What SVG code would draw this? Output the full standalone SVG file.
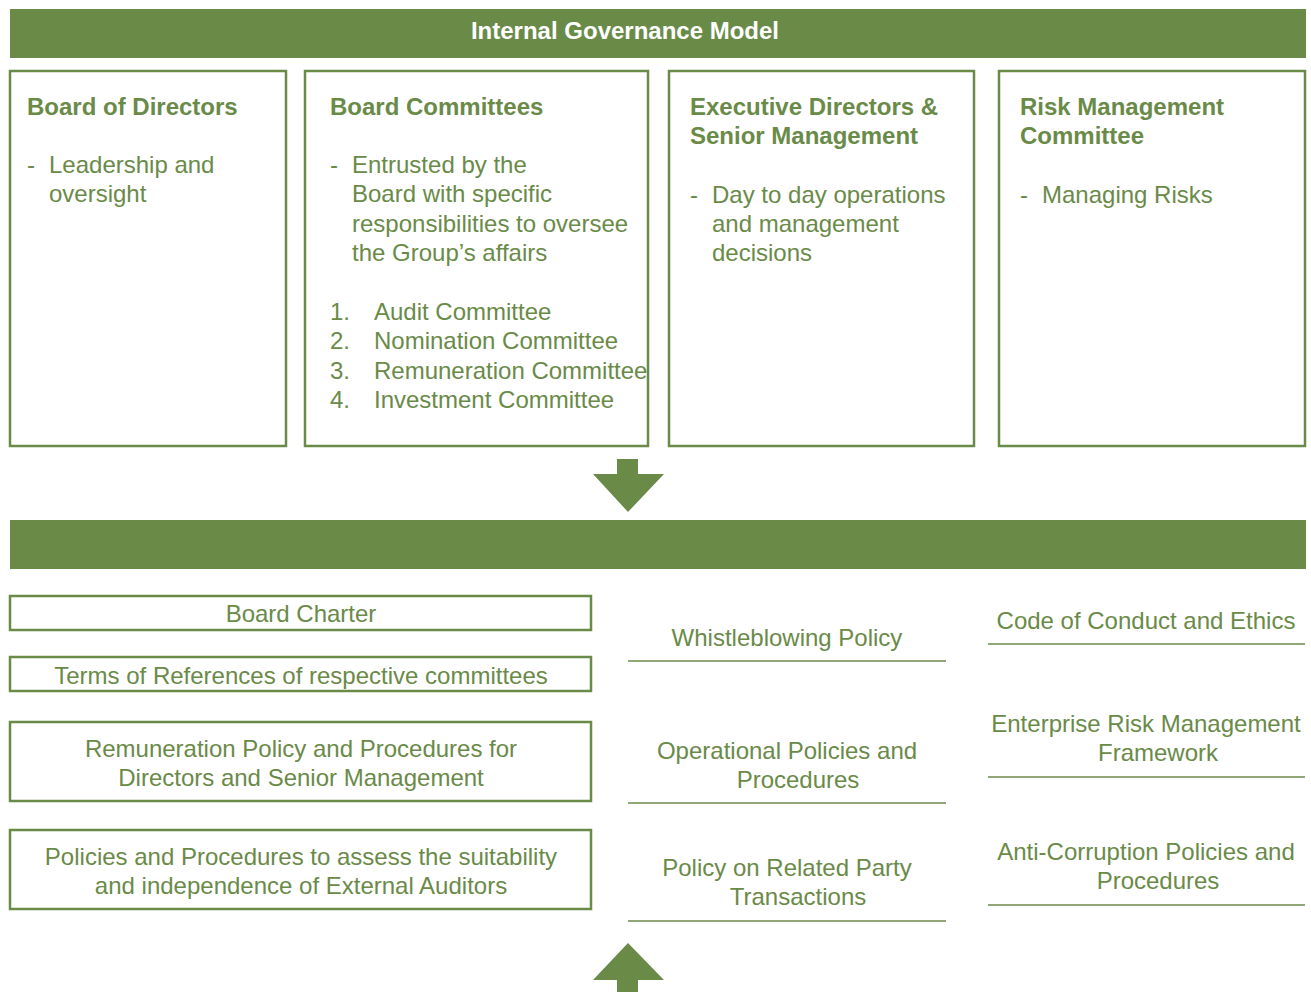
<svg xmlns="http://www.w3.org/2000/svg" width="1311" height="992" viewBox="0 0 1311 992">
<style>
.bar{fill:#6a8a48}
.box{fill:#fff;stroke:#6a8a48;stroke-width:2.5}
.rule{stroke:#6a8a48;stroke-width:1.6}
.h{font-family:"Liberation Sans",Arial,sans-serif;font-weight:bold;font-size:24px;fill:#6a8a48}
.t{font-family:"Liberation Sans",Arial,sans-serif;font-size:24px;fill:#6a8a48}
.c{text-anchor:middle}
.title{font-family:"Liberation Sans",Arial,sans-serif;font-weight:bold;font-size:24px;fill:#fff;text-anchor:middle}
</style>
<rect width="1311" height="992" fill="#fff"/>
<g id="header">
<rect class="bar" x="10" y="9" width="1296" height="49"/>
<text class="title" x="625" y="39">Internal Governance Model</text>
</g>
<g id="board-of-directors">
<rect class="box" x="10" y="71" width="276" height="375"/>
<text class="h" x="27" y="115">Board of Directors</text>
<text class="t" x="27" y="173">-</text>
<text class="t" x="49" y="173">Leadership and</text>
<text class="t" x="49" y="202">oversight</text>
</g>
<g id="board-committees">
<rect class="box" x="305" y="71" width="343" height="375"/>
<text class="h" x="330" y="115">Board Committees</text>
<text class="t" x="330" y="173">-</text>
<text class="t" x="352" y="173">Entrusted by the</text>
<text class="t" x="352" y="202">Board with specific</text>
<text class="t" x="352" y="232">responsibilities to oversee</text>
<text class="t" x="352" y="261">the Group’s affairs</text>
<text class="t" x="330" y="320">1.</text><text class="t" x="374" y="320">Audit Committee</text>
<text class="t" x="330" y="349">2.</text><text class="t" x="374" y="349">Nomination Committee</text>
<text class="t" x="330" y="379">3.</text><text class="t" x="374" y="379">Remuneration Committee</text>
<text class="t" x="330" y="408">4.</text><text class="t" x="374" y="408">Investment Committee</text>
</g>
<g id="executive-directors">
<rect class="box" x="669" y="71" width="305" height="375"/>
<text class="h" x="690" y="115">Executive Directors &amp;</text>
<text class="h" x="690" y="144">Senior Management</text>
<text class="t" x="690" y="203">-</text>
<text class="t" x="712" y="203">Day to day operations</text>
<text class="t" x="712" y="232">and management</text>
<text class="t" x="712" y="261">decisions</text>
</g>
<g id="risk-management-committee">
<rect class="box" x="999" y="71" width="306" height="375"/>
<text class="h" x="1020" y="115">Risk Management</text>
<text class="h" x="1020" y="144">Committee</text>
<text class="t" x="1020" y="203">-</text>
<text class="t" x="1042" y="203">Managing Risks</text>
</g>
<g id="connectors">
<polygon class="bar" points="617,459 638,459 638,474 664,474 628,512 593,474 617,474"/>
<polygon class="bar" points="628,943 664,980 638,980 638,992 617,992 617,980 593,980"/>
</g>
<g id="policies-bar">
<rect class="bar" x="10" y="520" width="1296" height="49"/>
</g>
<g id="board-charter">
<rect class="box" x="10" y="596" width="581" height="34"/>
<text class="t c" x="301" y="622">Board Charter</text>
</g>
<g id="terms-of-references">
<rect class="box" x="10" y="657" width="581" height="34"/>
<text class="t c" x="301" y="684">Terms of References of respective committees</text>
</g>
<g id="remuneration-policy">
<rect class="box" x="10" y="722" width="581" height="79"/>
<text class="t c" x="301" y="757">Remuneration Policy and Procedures for</text>
<text class="t c" x="301" y="786">Directors and Senior Management</text>
</g>
<g id="external-auditors-policy">
<rect class="box" x="10" y="830" width="581" height="79"/>
<text class="t c" x="301" y="865">Policies and Procedures to assess the suitability</text>
<text class="t c" x="301" y="894">and independence of External Auditors</text>
</g>
<g id="whistleblowing">
<text class="t c" x="787" y="646">Whistleblowing Policy</text>
<line class="rule" x1="628" y1="661" x2="946" y2="661"/>
</g>
<g id="operational-policies">
<text class="t c" x="787" y="759">Operational Policies and</text>
<text class="t c" x="798" y="788">Procedures</text>
<line class="rule" x1="628" y1="803" x2="946" y2="803"/>
</g>
<g id="related-party">
<text class="t c" x="787" y="876">Policy on Related Party</text>
<text class="t c" x="798" y="905">Transactions</text>
<line class="rule" x1="628" y1="921" x2="946" y2="921"/>
</g>
<g id="code-of-conduct">
<text class="t c" x="1146" y="629">Code of Conduct and Ethics</text>
<line class="rule" x1="988" y1="644" x2="1305" y2="644"/>
</g>
<g id="erm-framework">
<text class="t c" x="1146" y="732">Enterprise Risk Management</text>
<text class="t c" x="1158" y="761">Framework</text>
<line class="rule" x1="988" y1="777" x2="1305" y2="777"/>
</g>
<g id="anti-corruption">
<text class="t c" x="1146" y="860">Anti-Corruption Policies and</text>
<text class="t c" x="1158" y="889">Procedures</text>
<line class="rule" x1="988" y1="905" x2="1305" y2="905"/>
</g>
</svg>
